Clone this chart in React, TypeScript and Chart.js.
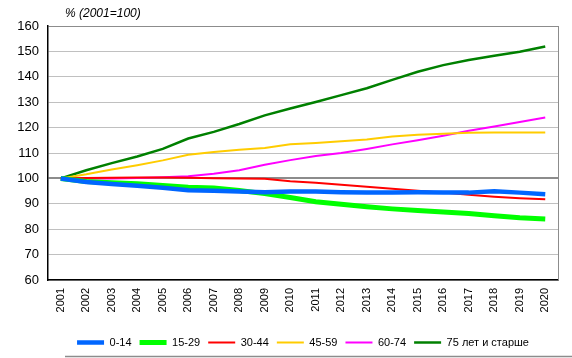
import React, { useEffect, useRef } from "react";
import { Chart, registerables } from "chart.js";

Chart.register(...registerables);

const years = ["2001","2002","2003","2004","2005","2006","2007","2008","2009","2010","2011","2012","2013","2014","2015","2016","2017","2018","2019","2020"];
const age0_14 = [100, 98.6, 97.8, 97.1, 96.3, 95.3, 95.1, 94.8, 94.5, 94.8, 94.8, 94.5, 94.4, 94.4, 94.5, 94.4, 94.4, 94.9, 94.4, 93.8];
const age15_29 = [100, 98.8, 98.3, 97.9, 97.2, 96.5, 96.2, 95.2, 94.0, 92.5, 90.8, 89.8, 88.8, 88.0, 87.4, 86.8, 86.2, 85.3, 84.5, 84.0];
const age30_44 = [100, 100.2, 100.3, 100.4, 100.4, 100.3, 100.1, 100.0, 99.9, 98.9, 98.3, 97.5, 96.7, 95.9, 95.1, 94.4, 93.6, 92.8, 92.2, 91.8];
const age45_59 = [100, 101.6, 103.5, 105.2, 107.1, 109.3, 110.4, 111.3, 112.0, 113.4, 113.9, 114.6, 115.3, 116.5, 117.2, 117.6, 118.0, 118.1, 118.1, 118.1];
const age60_74 = [100, 100, 100, 100.2, 100.5, 100.8, 101.8, 103.2, 105.4, 107.2, 108.8, 110, 111.6, 113.4, 115, 116.8, 118.8, 120.4, 122.2, 124];
const age75plus = [100, 103.2, 106, 108.6, 111.6, 115.7, 118.3, 121.4, 124.8, 127.5, 130.1, 132.8, 135.5, 138.8, 142, 144.6, 146.6, 148.3, 149.9, 151.9];
const seriesNames = ["0-14", "15-29", "30-44", "45-59", "60-74", "75 лет и старше"];
const titleText = "% (2001=100)";

const FONT = "'Liberation Sans', Arial, sans-serif";

const decorPlugin = {
  id: "decor",
  afterDraw(chart: any) {
    const { ctx, chartArea } = chart;
    ctx.save();
    ctx.strokeStyle = "#8c8c8c";
    ctx.lineWidth = 1;
    ctx.beginPath();
    ctx.moveTo(chartArea.right + 0.5, chartArea.top);
    ctx.lineTo(chartArea.right + 0.5, chartArea.bottom);
    ctx.stroke();
    ctx.strokeStyle = "#8c8c8c";
    ctx.lineWidth = 1.5;
    ctx.beginPath();
    ctx.moveTo(chartArea.left + 17, chart.height - 1.5);
    ctx.lineTo(chart.width, chart.height - 1.5);
    ctx.stroke();
    ctx.fillStyle = "#000";
    ctx.font = "italic 12px " + FONT;
    ctx.textAlign = "left";
    ctx.textBaseline = "middle";
    ctx.fillText(titleText, chartArea.left + 17, 14);
    ctx.restore();
  },
};

export default function App() {
  const ref = useRef<HTMLCanvasElement>(null);
  useEffect(() => {
    document.body.style.margin = "0";
    const series = [age0_14, age15_29, age30_44, age45_59, age60_74, age75plus];
    const colors = ["#0066ff", "#00ff00", "#ff0000", "#ffcc00", "#ff00ff", "#008000"];
    const widths = [4.5, 5, 2, 2, 2, 2.5];
    const chart = new Chart(ref.current!, {
      type: "line",
      data: {
        labels: years,
        datasets: series.map((d, i) => ({
          label: seriesNames[i],
          data: d,
          borderColor: colors[i],
          backgroundColor: colors[i],
          borderWidth: widths[i],
          pointRadius: 0,
          tension: 0,
          fill: false,
        })),
      },
      options: {
        animation: false,
        responsive: false,
        maintainAspectRatio: false,
        layout: { padding: { top: 26, left: 0, right: 14, bottom: 0 } },
        plugins: {
          legend: {
            position: "bottom",
            fullSize: false,
            labels: {
              usePointStyle: true,
              pointStyle: "line",
              pointStyleWidth: 27,
              padding: 8,
              color: "#000",
              font: { family: FONT, size: 11 },
            },
          },
          tooltip: { enabled: false },
        },
        scales: {
          x: {
            offset: true,
            grid: { display: false, drawTicks: false },
            border: { color: "#000", width: 1.5 },
            ticks: {
              color: "#000",
              font: { family: FONT, size: 11 },
              maxRotation: 90,
              minRotation: 90,
              padding: 8,
              autoSkip: false,
            },
            afterFit(scale: any) {
              scale.height = 49;
            },
          },
          y: {
            min: 60,
            max: 160,
            grid: {
              drawTicks: false,
              color: (c: any) => (c.tick && (c.tick.value === 100 || c.tick.value === 160) ? "#8c8c8c" : "#c0c0c0"),
              lineWidth: (c: any) => (c.tick && c.tick.value === 100 ? 2 : 1),
            },
            border: { color: "#000", width: 1.5 },
            ticks: {
              stepSize: 10,
              color: "#000",
              font: { family: FONT, size: 13 },
              padding: 9,
            },
            afterFit(scale: any) {
              scale.width = 48;
            },
          },
        },
      },
      plugins: [decorPlugin],
    });
    return () => chart.destroy();
  }, []);
  return (
    <div style={{ position: "absolute", left: 0, top: 0, width: 572, height: 358 }}>
      <canvas ref={ref} width={572} height={358} style={{ width: 572, height: 358 }} />
    </div>
  );
}
